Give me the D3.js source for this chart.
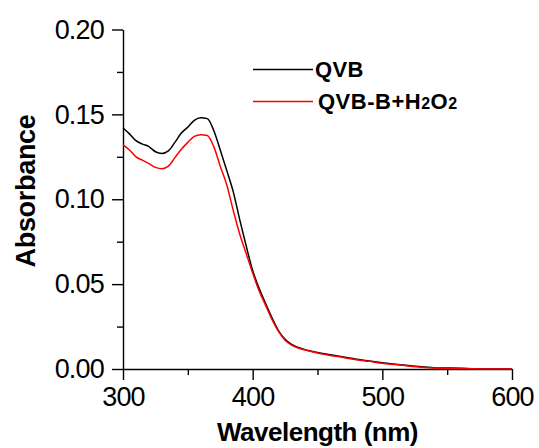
<!DOCTYPE html>
<html>
<head>
<meta charset="utf-8">
<script src="https://cdn.jsdelivr.net/npm/d3@7"></script>
<style>
  body { margin: 0; background: #fff; }
  svg { display: block; }
  .tick text { font-family: "Liberation Sans", Arial, sans-serif; }
</style>
</head>
<body>
<div id="chart"></div>
<script>
"use strict";

// wavelength (nm)
var wavelength = [300, 305, 310, 315, 320, 325, 330, 335, 340, 345, 350, 355, 360, 365, 370,
    375, 380, 385, 390, 395, 400, 405, 410, 415, 420, 425, 430, 440, 450, 460, 470, 480, 490,
    500, 510, 520, 530, 540, 550, 560, 570, 580, 590, 600];

// QVB
var qvb = [0.142, 0.1385, 0.1345, 0.1325, 0.131, 0.128, 0.127, 0.1285, 0.1335, 0.139, 0.1425,
    0.1465, 0.148, 0.1475, 0.1405, 0.129, 0.117, 0.1045, 0.088, 0.0725, 0.058, 0.0475, 0.0385,
    0.030, 0.0225, 0.0175, 0.0145, 0.0115, 0.0097, 0.0084, 0.0071, 0.0058, 0.0047, 0.0037,
    0.0028, 0.002, 0.0013, 0.0008, 0.0006, 0.0004, 0.0001, 0, 0, 0];

// QVB-B + H2O2
var qvbH2o2 = [0.132, 0.129, 0.125, 0.123, 0.121, 0.1188, 0.118, 0.1195, 0.1245, 0.1295, 0.1335,
    0.137, 0.138, 0.1375, 0.131, 0.1195, 0.1085, 0.0935, 0.0795, 0.068, 0.0565, 0.046, 0.0375,
    0.029, 0.022, 0.017, 0.014, 0.0113, 0.0094, 0.008, 0.0068, 0.0055, 0.0045, 0.0034,
    0.0026, 0.0018, 0.0011, 0.0006, 0.0004, 0.0003, 0.0001, 0, 0, 0];

var xMajor = [300, 400, 500, 600];
var xMinor = [350, 450, 550];
var yMajor = [0, 0.05, 0.10, 0.15, 0.20];
var yMinor = [0.025, 0.075, 0.125, 0.175];

var series = [
    { label: "QVB", values: qvb, color: "#000000" },
    { label: "QVB-B+H2O2", values: qvbH2o2, color: "#ff0000" }
];

var width = 539, height = 448;
var margin = { top: 29.5, right: 27, bottom: 79, left: 123 };

var svg = d3.select("#chart")
    .append("svg")
    .attr("width", width)
    .attr("height", height);

var x = d3.scaleLinear().domain([300, 600]).range([margin.left, width - margin.right]);
var y = d3.scaleLinear().domain([0, 0.20]).range([height - margin.bottom, margin.top]);

var font = "'Liberation Sans', Arial, sans-serif";

// x axis
svg.append("g")
    .attr("transform", "translate(0," + y(0) + ")")
    .call(d3.axisBottom(x).tickValues(xMajor).tickSize(11).tickSizeOuter(0).tickPadding(7)
        .tickFormat(d3.format("d")));
svg.append("g")
    .attr("transform", "translate(0," + y(0) + ")")
    .call(d3.axisBottom(x).tickValues(xMinor).tickSize(6).tickFormat(""))
    .select(".domain").remove();

// y axis
svg.append("g")
    .attr("transform", "translate(" + x(300) + ",0)")
    .call(d3.axisLeft(y).tickValues(yMajor).tickSize(11).tickSizeOuter(0).tickPadding(8)
        .tickFormat(d3.format(".2f")));
svg.append("g")
    .attr("transform", "translate(" + x(300) + ",0)")
    .call(d3.axisLeft(y).tickValues(yMinor).tickSize(6).tickFormat(""))
    .select(".domain").remove();

svg.selectAll(".domain, .tick line")
    .attr("stroke", "#000")
    .attr("stroke-width", 1.4);
svg.selectAll(".tick text")
    .attr("fill", "#000")
    .style("font-size", "27px")
    .style("letter-spacing", "-0.8px");

// curves
var line = d3.line()
    .curve(d3.curveMonotoneX)
    .x(function (d) { return x(d[0]); })
    .y(function (d) { return y(d[1]); });

series.forEach(function (s) {
    svg.append("path")
        .datum(wavelength.map(function (w, i) { return [w, s.values[i]]; }))
        .attr("fill", "none")
        .attr("stroke", s.color)
        .attr("stroke-width", 1.5)
        .attr("d", line);
});

// axis titles
svg.append("text")
    .attr("x", (x(300) + x(600)) / 2)
    .attr("y", 441)
    .attr("text-anchor", "middle")
    .style("font-family", font)
    .style("font-weight", "bold")
    .style("font-size", "26px")
    .style("letter-spacing", "-0.5px")
    .text("Wavelength (nm)");

svg.append("text")
    .attr("transform", "translate(35,191) rotate(-90)")
    .attr("text-anchor", "middle")
    .style("font-family", font)
    .style("font-weight", "bold")
    .style("font-size", "27px")
    .style("letter-spacing", "-0.3px")
    .text("Absorbance");

// legend
var legend = svg.append("g");
var legendRows = [
    { y: 69.5, color: "#000000" },
    { y: 101.5, color: "#ff0000" }
];
legendRows.forEach(function (r) {
    legend.append("line")
        .attr("x1", 253).attr("x2", 313)
        .attr("y1", r.y).attr("y2", r.y)
        .attr("stroke", r.color)
        .attr("stroke-width", 1.5);
});

legend.append("text")
    .attr("x", 315).attr("y", legendRows[0].y + 7)
    .style("font-family", font).style("font-weight", "bold").style("font-size", "22px")
    .style("letter-spacing", "0.3px")
    .text(series[0].label);

var t2 = legend.append("text")
    .attr("x", 318).attr("y", legendRows[1].y + 7.5)
    .style("font-family", font).style("font-weight", "bold").style("font-size", "22px")
    .style("letter-spacing", "0.5px");
t2.append("tspan").text("QVB-B+H");
t2.append("tspan").attr("font-size", "16px").text("2");
t2.append("tspan").text("O");
t2.append("tspan").attr("font-size", "16px").text("2");
</script>
</body>
</html>
